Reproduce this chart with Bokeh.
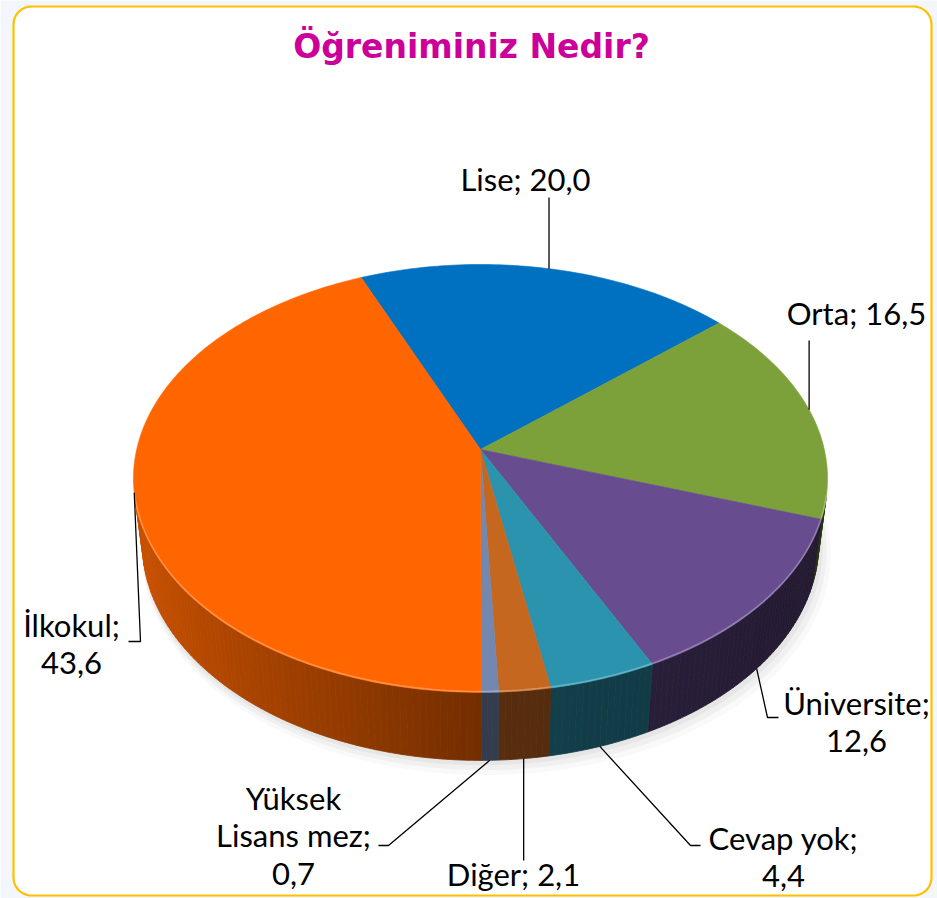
import numpy as np
from bokeh.plotting import figure
from bokeh.models import Range1d
from bokeh.embed import file_html
from bokeh.resources import INLINE
from bokeh.core.properties import value

# ---------------- data ----------------
title = "Öğreniminiz Nedir?"
categories = ["Lise", "Orta", "Üniversite", "Cevap yok", "Diğer", "Yüksek Lisans mez", "İlkokul"]
values = [20.0, 16.5, 12.6, 4.4, 2.1, 0.7, 43.6]
colors = ["#0070C0", "#7DA13A", "#684C90", "#2B93AD", "#C6671F", "#7487AE", "#FF6600"]

# ---------------- layout / style ----------------
START_ANGLE = -23.0          # degrees, clockwise from 12 o'clock
CX, CY = 480.0, 449.0        # projected pie centre (px)
ALPHA = np.radians(37.66)    # view elevation
SA, CA = np.sin(ALPHA), np.cos(ALPHA)
F, D, T = 2009.6, 5.845, 0.245
FONT = "Lato"
LABEL_SIZE = "31px"

# label layout: (centre x, centre y, wrap style, leader path after anchor)
label_layout = [
    (525, 178, 1, [("a", 197)]),
    (856, 312, 1, [("a", 340)]),
    (856, 721, 2, [(767, 717), (778, 717)]),
    (783, 856, 2, [(690, 845), (700, 845)]),
    (513, 873, 1, [("a", 860)]),
    (293, 835, 3, [(388, 845), (378, 845)]),
    (71, 643, 2, [(140, 641), (128, 641)]),
]


def proj(th_deg, h):
    th = np.radians(th_deg)
    u, v = np.sin(th), np.cos(th)
    z = D + v * CA - h * SA
    return CX + F * u / z, CY - F * (v * SA + h * CA) / z


def shade(hx, f):
    r, g, b = (int(hx[i:i + 2], 16) for i in (1, 3, 5))
    if f <= 1:
        r, g, b = (int(round(c * f)) for c in (r, g, b))
    else:
        t = f - 1
        r, g, b = (int(round(c + (255 - c) * t)) for c in (r, g, b))
    return "#%02x%02x%02x" % (max(0, min(255, r)), max(0, min(255, g)), max(0, min(255, b)))


def side_factor(th_deg):
    s = np.sin(np.radians(th_deg))
    return 0.45 + 0.35 * max(0.0, -s) - 0.12 * max(0.0, s)


def fmt(v):
    return f"{v:.1f}".replace(".", ",")


W, H = 937, 898
p = figure(width=W, height=H, x_range=Range1d(0, W), y_range=Range1d(H, 0),
           output_backend="svg", toolbar_location=None, min_border=0)
p.axis.visible = False
p.grid.visible = False
p.outline_line_color = None
p.background_fill_color = "#F3F7FB"
p.border_fill_color = "#F3F7FB"

# ---- rounded frame ----
x0, x1, y0, y1, r = 13.0, 931.0, 6.0, 895.0, 18.0
fx, fy = [], []
for (ccx, ccy, a0) in [(x1 - r, y0 + r, -90), (x1 - r, y1 - r, 0), (x0 + r, y1 - r, 90), (x0 + r, y0 + r, 180)]:
    for a in np.linspace(a0, a0 + 90, 12):
        fx.append(ccx + r * np.cos(np.radians(a)))
        fy.append(ccy + r * np.sin(np.radians(a)))
p.patch(fx, fy, fill_color="white", line_color="#FFC000", line_width=2.2)

# ---- angles ----
total = sum(values)
starts, ends = [], []
a = START_ANGLE
for v in values:
    starts.append(a)
    a += v / total * 360.0
    ends.append(a)

# ---- soft shadow ----
ring = np.linspace(0, 360, 181)
bx, by = proj(ring, -T)
for s, dx, dy, al in [(1.018, 6, 9, 0.05), (1.012, 4, 6, 0.07), (1.006, 2, 3, 0.09)]:
    p.patch(CX + (bx - CX) * s + dx, CY + (by - CY) * s + dy,
            fill_color="#808080", fill_alpha=al, line_color=None)

# ---- side walls (front-facing part only) ----
VIS_LO = 180 - np.degrees(np.arccos(1 / (D * CA)))
VIS_HI = 180 + np.degrees(np.arccos(1 / (D * CA)))
sxs, sys_, scol = [], [], []
for i in range(len(values)):
    a1 = starts[i] % 360
    a2 = a1 + (ends[i] - starts[i])
    lo, hi = max(a1, VIS_LO), min(a2, VIS_HI)
    if hi <= lo:
        continue
    n = max(1, int(np.ceil(hi - lo)))
    edges = np.linspace(lo, hi, n + 1)
    for t0, t1 in zip(edges[:-1], edges[1:]):
        tx0, ty0 = proj(t0, 0)
        tx1, ty1 = proj(t1, 0)
        bx0, by0 = proj(t0, -T)
        bx1, by1 = proj(t1, -T)
        sxs.append([tx0, tx1, bx1, bx0])
        sys_.append([ty0, ty1, by1, by0])
        scol.append(shade(colors[i], side_factor((t0 + t1) / 2)))
p.patches(sxs, sys_, fill_color=scol, line_color=scol, line_width=0.8)

# ---- top faces ----
txs, tys = [], []
for i in range(len(values)):
    th = np.linspace(starts[i], ends[i], max(3, int(ends[i] - starts[i]) + 2))
    ax, ay = proj(th, 0)
    txs.append([CX] + list(ax))
    tys.append([CY] + list(ay))
p.patches(txs, tys, fill_color=colors, line_color=colors, line_width=0.6)

# ---- rim highlight on front edge ----
for i in range(len(values)):
    a1 = starts[i] % 360
    a2 = a1 + (ends[i] - starts[i])
    lo, hi = max(a1, VIS_LO), min(a2, VIS_HI)
    if hi <= lo:
        continue
    th = np.linspace(lo, hi, max(3, int(hi - lo) + 2))
    rx, ry = proj(th, 0)
    p.line(rx, ry - 1.0, line_color=shade(colors[i], 1.35), line_width=1.6, line_alpha=0.8)

# ---- leader lines & labels ----
K = 1 / (D * CA)
lab_x, lab_y, lab_t = [], [], []
for i, (lx, ly, wrap, path) in enumerate(label_layout):
    mid = (starts[i] + ends[i]) / 2
    h = -T if np.cos(np.radians(mid)) < -K else 0.0
    ax, ay = proj(mid, h)
    xs, ys = [ax], [ay]
    for (px_, py_) in path:
        xs.append(ax if px_ == "a" else px_)
        ys.append(py_)
    p.line(xs, ys, line_color="black", line_width=1.3)
    c, v = categories[i], fmt(values[i])
    if wrap == 1:
        t = f"{c}; {v}"
    elif wrap == 2:
        t = f"{c};\n{v}"
    else:
        w = c.split(" ", 1)
        t = f"{w[0]}\n{w[1]};\n{v}"
    lab_x.append(lx)
    lab_y.append(ly)
    lab_t.append(t)

p.text(lab_x, lab_y, text=lab_t, text_font=value(FONT), text_font_size=LABEL_SIZE,
       text_align="center", text_baseline="middle", text_color="black", text_line_height=0.98)

p.text([471], [46], text=[title], text_font=value("DejaVu Sans"), text_font_size="33px",
       text_font_style="bold", text_align="center", text_baseline="middle", text_color="#CC0099")

open("out.html", "w").write(file_html(p, INLINE))
